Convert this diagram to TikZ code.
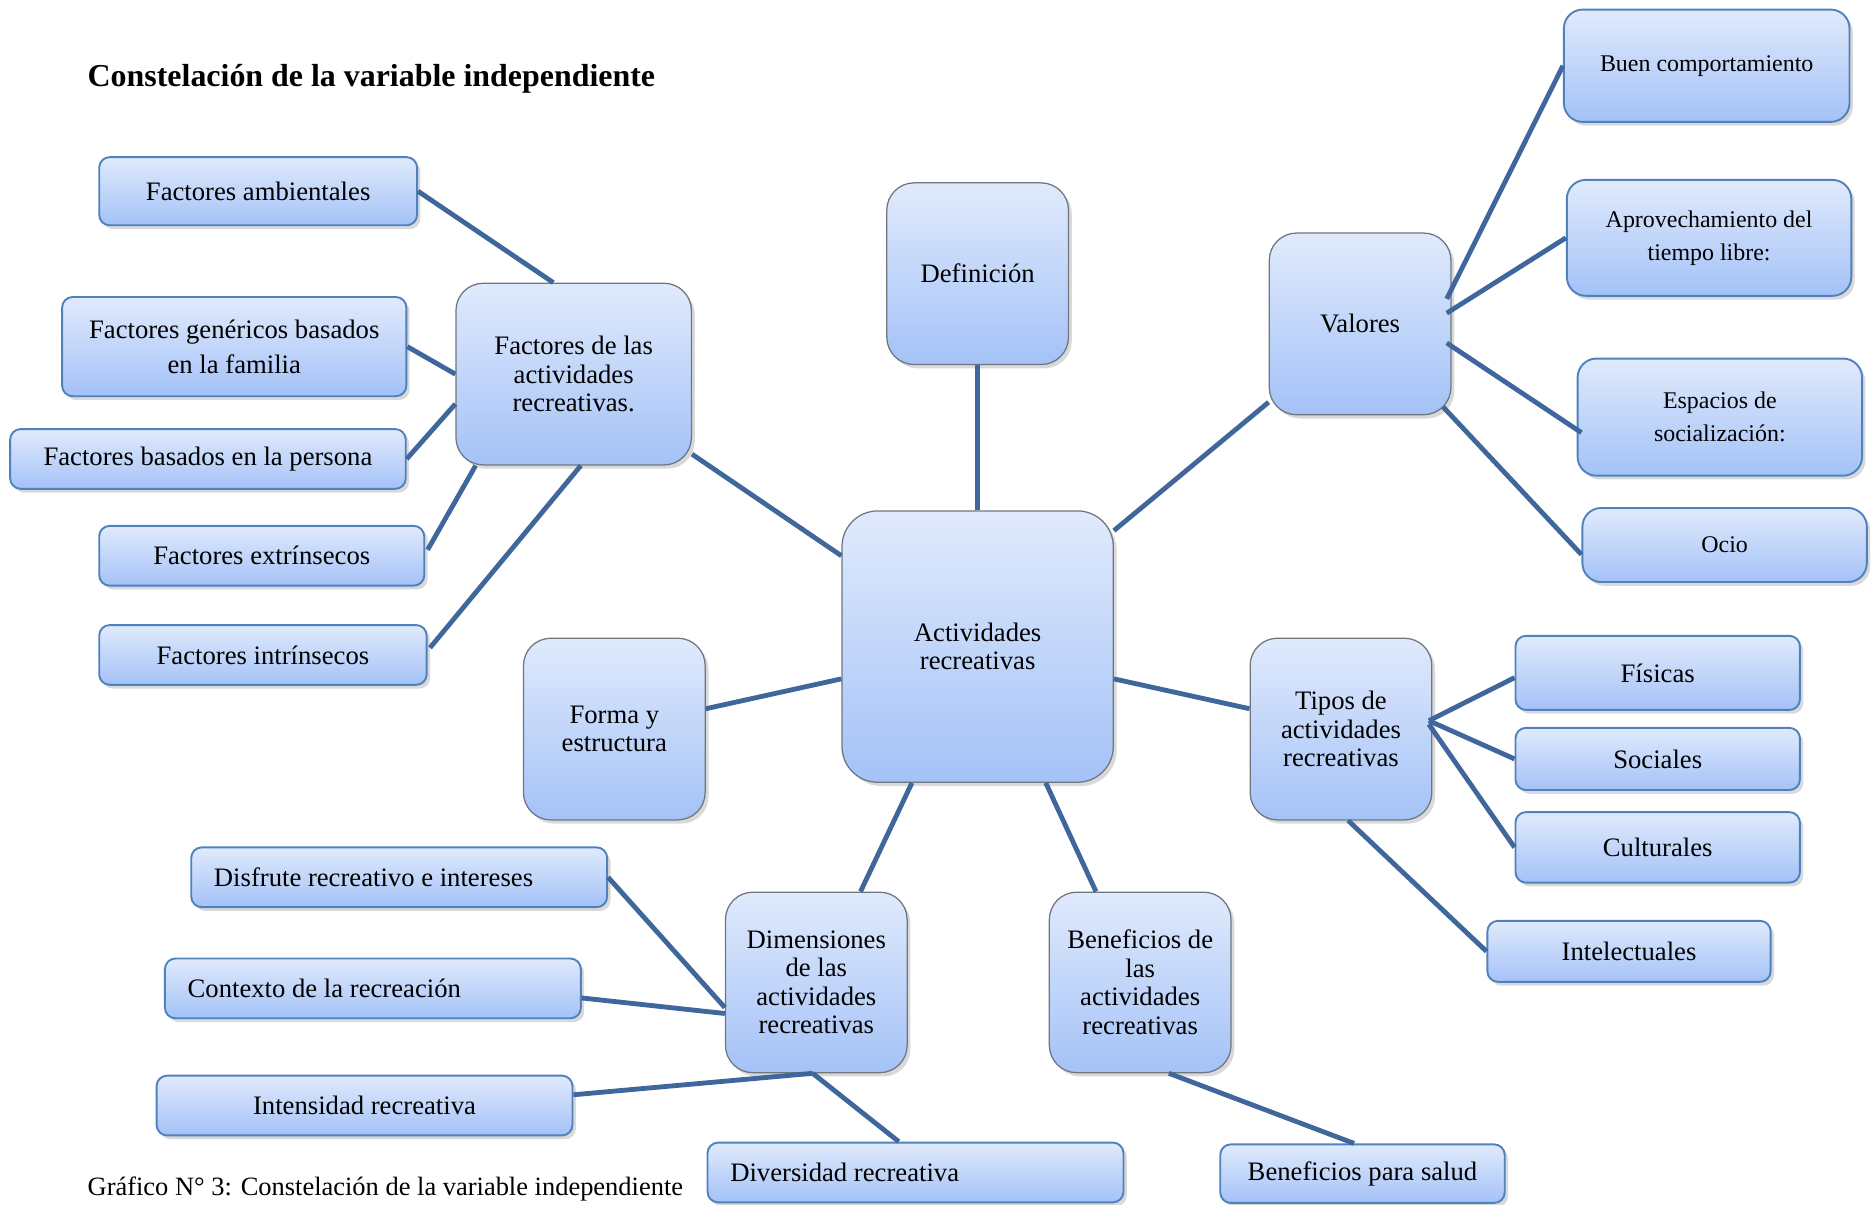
\documentclass[tikz,border=0pt]{standalone}
\usepackage{fontspec}
\setmainfont{Liberation Serif}
\usetikzlibrary{shadows,calc}

\definecolor{linkblue}{RGB}{64,103,156}
\definecolor{boxline}{RGB}{79,129,189}
\definecolor{hubline}{RGB}{112,118,128}
\definecolor{boxtop}{RGB}{224,234,252}
\definecolor{boxbot}{RGB}{164,194,247}

\tikzset{
  wh/.style 2 args={minimum width=#1*0.02cm, minimum height=#2*0.02cm},
  shade box/.style={top color=boxtop, bottom color=boxbot,
    drop shadow={opacity=0.3, shadow xshift=1.6pt, shadow yshift=-1.8pt}},
  leaf/.style={shade box, draw=boxline, line width=0.9pt, rounded corners=5pt,
    inner sep=0pt, align=center, font=\fontsize{12.7}{16.8}\selectfont},
  leftleaf/.style={leaf, text width=6.2cm, align=flush left, inner xsep=0.38cm},
  valleaf/.style={leaf, rounded corners=9pt, font=\fontsize{11.4}{15.7}\selectfont},
  hub/.style={shade box, draw=hubline, line width=0.6pt, rounded corners=13pt,
    inner sep=0pt, align=center, font=\fontsize{12.7}{13.6}\selectfont},
  link/.style={draw=linkblue, line width=2.3pt}
}

\begin{document}
\begin{tikzpicture}[x=0.02cm,y=-0.02cm]
\useasboundingbox (0,0) rectangle (1568,1008);

% titulo y pie
\node[anchor=west, inner xsep=0pt, font=\fontsize{15.2}{18}\selectfont\bfseries] (titulo) at (73,66)
  {Constelación de la variable independiente};
\node[anchor=west, inner xsep=0pt, font=\fontsize{12.6}{14}\selectfont] (pie) at (73,995)
  {Gráfico N° 3: Constelación de la variable independiente};

% nodos centrales
\node[hub, wh={227}{227}, rounded corners=17pt] (act) at (818,541) {Actividades\\recreativas};
\node[hub, wh={197}{152}] (fac) at (480,313) {Factores de las\\actividades\\recreativas.};
\node[hub, wh={152}{152}] (def) at (818,229) {Definición};
\node[hub, wh={152}{152}] (val) at (1138,271) {Valores};
\node[hub, wh={152}{152}] (for) at (514,610) {Forma y\\estructura};
\node[hub, wh={152}{152}] (tip) at (1122,610) {Tipos de\\actividades\\recreativas};
\node[hub, wh={152}{151}] (dim) at (683,822) {Dimensiones\\de las\\actividades\\recreativas};
\node[hub, wh={152}{151}] (ben) at (954,822) {Beneficios de\\las\\actividades\\recreativas};

% factores
\node[leaf, wh={266}{57}] (amb) at (216,160) {Factores ambientales};
\node[leaf, wh={288}{83}] (gen) at (196,290) {Factores genéricos basados\\en la familia};
\node[leaf, wh={331}{50}] (per) at (174,384) {Factores basados en la persona};
\node[leaf, wh={272}{50}] (ext) at (219,465) {Factores extrínsecos};
\node[leaf, wh={274}{50}] (intr) at (220,548) {Factores intrínsecos};

% valores
\node[valleaf, wh={239}{94}] (buen) at (1428,55) {Buen comportamiento};
\node[valleaf, wh={238}{97}] (apr) at (1430,199) {Aprovechamiento del\\tiempo libre:};
\node[valleaf, wh={238}{98}] (esp) at (1439,349) {Espacios de\\socialización:};
\node[valleaf, wh={238}{62}] (ocio) at (1443,456) {Ocio};

% tipos
\node[leaf, wh={238}{62}] (fis) at (1387,563) {Físicas};
\node[leaf, wh={238}{52}] (soc) at (1387,635) {Sociales};
\node[leaf, wh={238}{59}] (cul) at (1387,709) {Culturales};
\node[leaf, wh={237}{51}] (intl) at (1363,796) {Intelectuales};

% dimensiones
\node[leftleaf, wh={348}{50}] (dis) at (334,734) {Disfrute recreativo e intereses};
\node[leftleaf, wh={348}{50}] (con) at (312,827) {Contexto de la recreación};
\node[leaf, wh={348}{50}] (ins) at (305,925) {Intensidad recreativa};
\node[leftleaf, wh={348}{50}] (div) at (766,981) {Diversidad recreativa};

% beneficios
\node[leaf, wh={238}{49}] (sal) at (1140,982) {Beneficios para salud};

% conectores
\draw[link] (amb.east) -- ($(fac.north)+(-17,0)$);
\draw[link] (gen.east) -- (fac.west);
\draw[link] (per.east) -- ($(fac.west)+(0,25)$);
\draw[link] ($(ext.east)+(2,-5)$) -- ($(fac.south west)+(17,0)$);
\draw[link] ($(intr.east)+(2,-6)$) -- ($(fac.south)+(6,0)$);
\draw[link] ($(fac.east)+(0,67)$) -- ($(act.west)+(0,-76)$);
\draw[link] (def.south) -- (act.north);
\draw[link] ($(val.south west)+(0,-11)$) -- ($(act.north east)+(0,17)$);
\draw[link] ($(val.east)+(-4,-21)$) -- (buen.west);
\draw[link] ($(val.east)+(-4,-9)$) -- (apr.west);
\draw[link] ($(val.east)+(-4,16)$) -- ($(esp.west)+(4,13)$);
\draw[link] ($(val.south east)+(-7,-7)$) -- ($(ocio.west)+(0,8)$);
\draw[link] ($(act.east)+(0,27)$) -- ($(tip.west)+(0,-17)$);
\draw[link] ($(tip.east)+(-3,-7)$) -- ($(fis.west)+(0,4)$);
\draw[link] ($(tip.east)+(-3,-7)$) -- (soc.west);
\draw[link] ($(tip.east)+(-3,-4)$) -- (cul.west);
\draw[link] ($(tip.south)+(6,0)$) -- (intl.west);
\draw[link] ($(act.west)+(0,27)$) -- ($(for.east)+(0,-17)$);
\draw[link] ($(act.south)+(-55,0)$) -- ($(dim.north)+(37,0)$);
\draw[link] ($(act.south)+(57,0)$) -- ($(ben.north)+(-37,0)$);
\draw[link] ($(dim.west)+(0,21)$) -- (dis.east);
\draw[link] ($(dim.west)+(0,26)$) -- ($(con.east)+(0,8)$);
\draw[link] ($(dim.south)+(-3,0)$) -- ($(ins.east)+(0,-9)$);
\draw[link] ($(dim.south)+(-3,0)$) -- ($(div.north)+(-14,0)$);
\draw[link] ($(ben.south)+(24,0)$) -- ($(sal.north)+(-7,0)$);
\end{tikzpicture}
\end{document}
